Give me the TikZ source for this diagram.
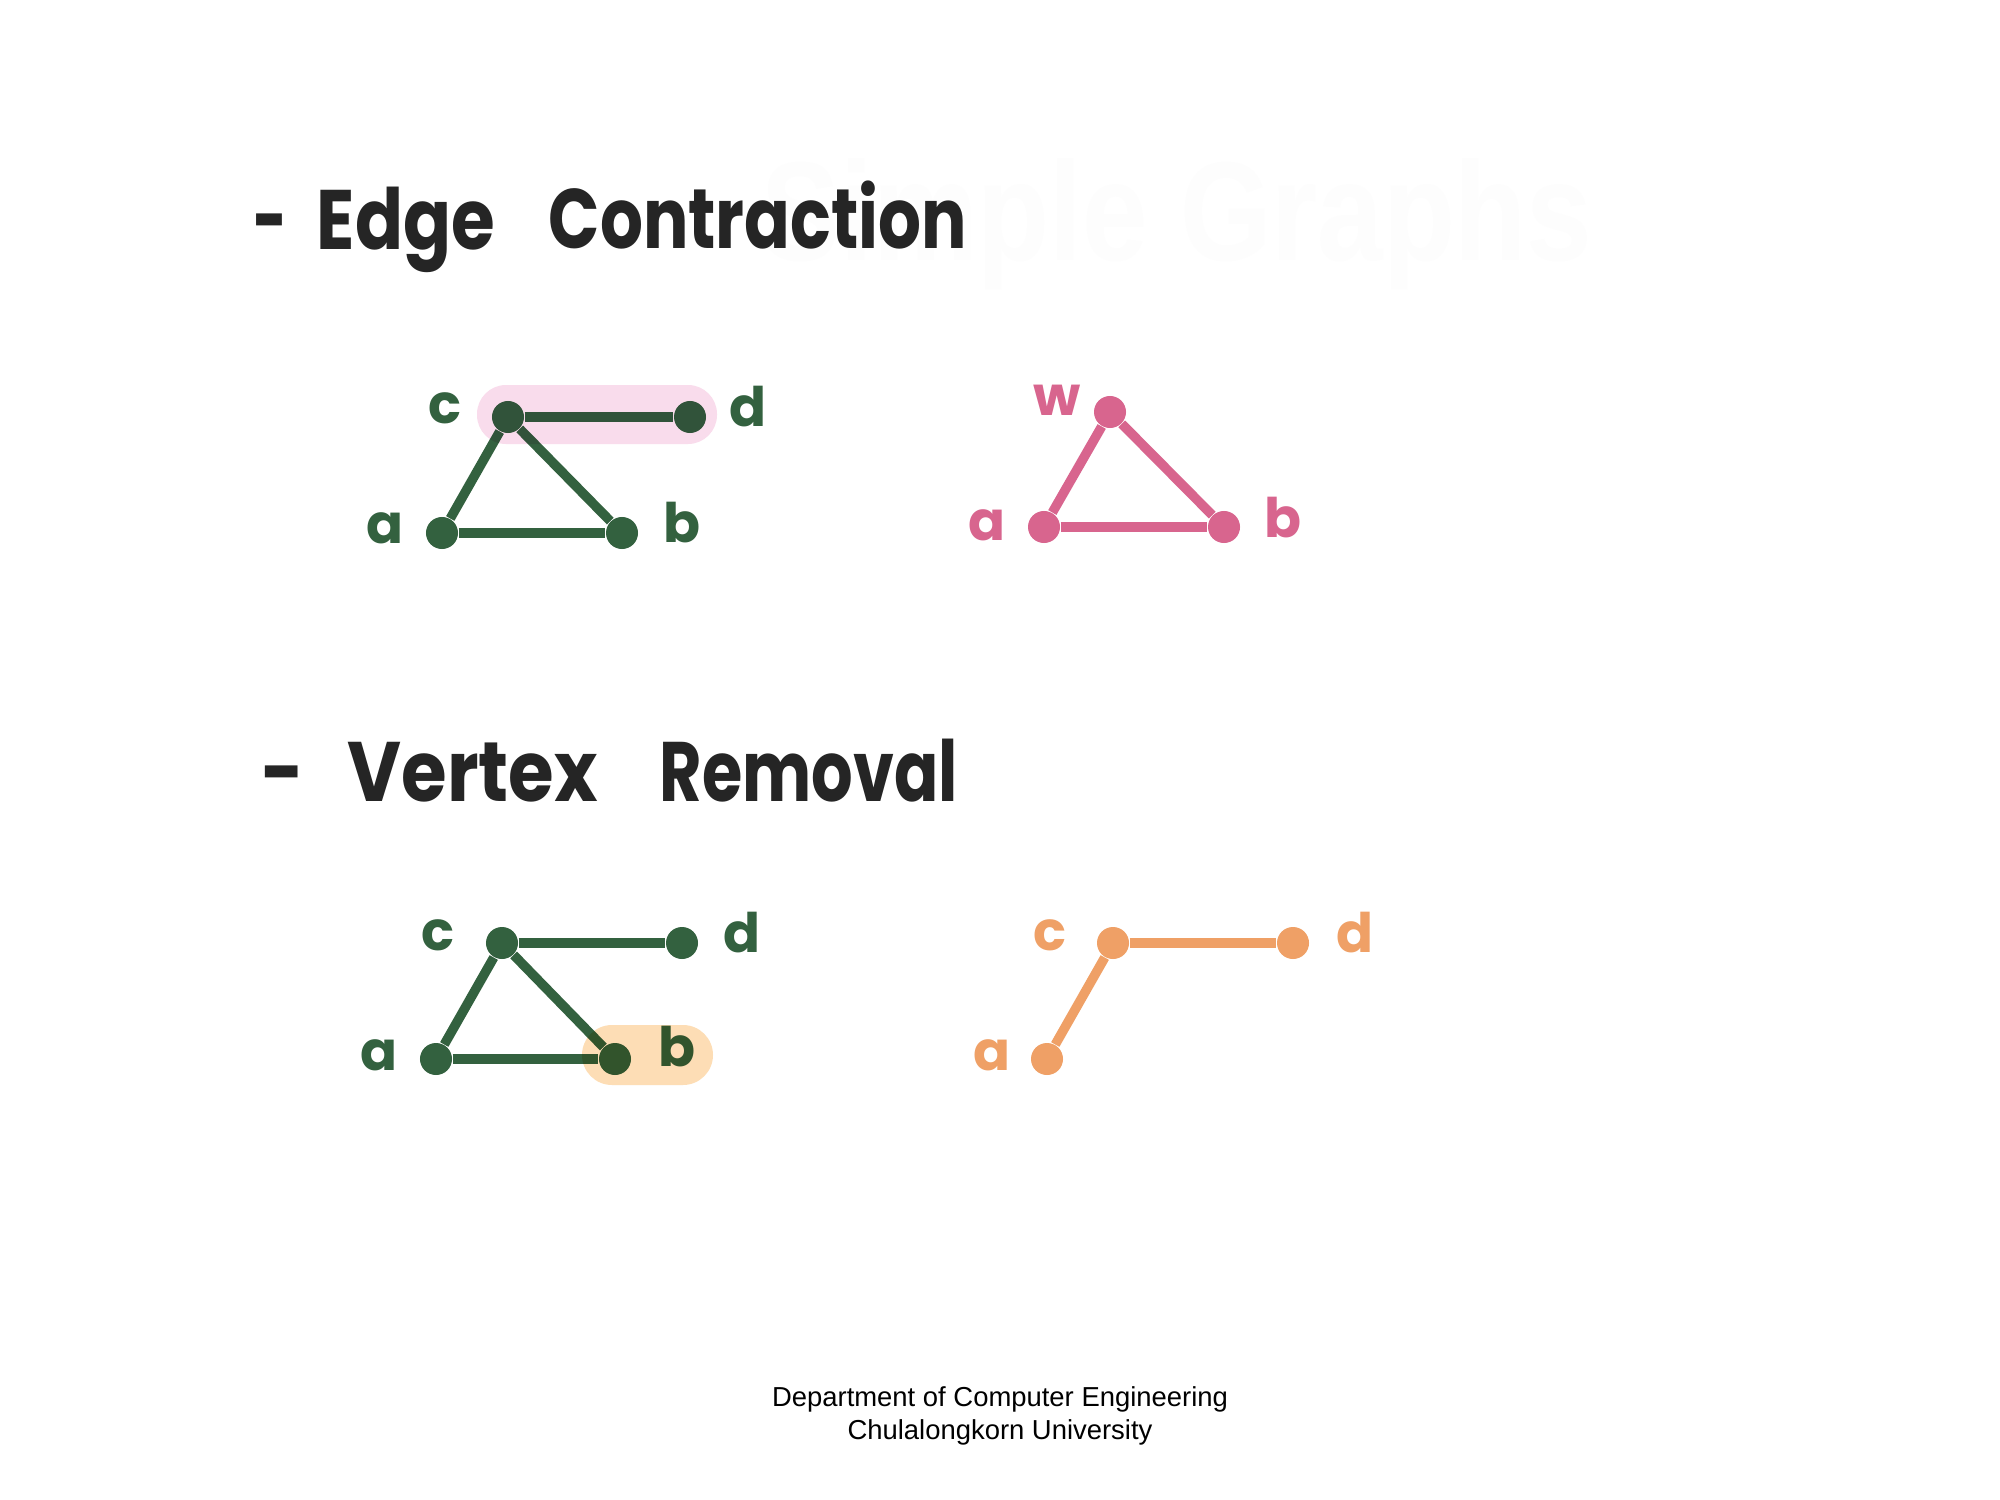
\documentclass[tikz,border=0pt]{standalone}
\usepackage{fontspec}
\usepackage{graphicx}
\setmainfont{Liberation Sans}
\newfontfamily\handfont{Poppins}

\definecolor{ink}{HTML}{252525}
\definecolor{forest}{HTML}{33613F}
\definecolor{rose}{HTML}{D8658E}
\definecolor{apricot}{HTML}{EFA066}
\definecolor{rosewash}{HTML}{F9DCEC}
\definecolor{apricotwash}{HTML}{FDDDB5}

\tikzset{
  vtx/.style={circle, fill=#1, inner sep=0pt, minimum size=0.32cm},
  lbl/.style={text=#1, inner sep=0pt, anchor=center,
              font=\handfont\bfseries\fontsize{15.5}{15.5}\selectfont},
  link/.style={draw=#1, line width=0.095cm},
  head/.style={text=ink, inner sep=0pt, anchor=base west,
               font=\handfont\bfseries\fontsize{24}{24}\selectfont},
}

\begin{document}
\begin{tikzpicture}[x=0.01cm, y=-0.01cm]
  \useasboundingbox (0,0) rectangle (2000,1500);
  \fill[white] (0,0) rectangle (2000,1500);

  % faint title behind the headings
  \node[anchor=base east, inner sep=0pt, text=black!0.8,
        font=\bfseries\fontsize{40}{40}\selectfont] (ghost) at (1593,260)
        {\resizebox{8.3cm}{\height}{Simple Graphs}};

  % ---------- headings ----------
  \node[head] (h1dash) at (253,249) {\resizebox{0.34cm}{\height}{-}};
  \node[head] (h1a) at (316,249) {\resizebox{1.78cm}{\height}{Edge}};
  \node[head] (h1b) at (548,249) {\resizebox{4.18cm}{\height}{Contraction}};

  \node[head] (h2dash) at (261,801) {\resizebox{0.43cm}{\height}{-}};
  \node[head] (h2a) at (347,801) {\resizebox{2.50cm}{\height}{Vertex}};
  \node[head] (h2b) at (659,801) {\resizebox{2.98cm}{\height}{Removal}};

  % ---------- graph 1: before contraction ----------
  \node[vtx=forest] (c1) at (508,417) {};
  \node[vtx=forest] (d1) at (690,417) {};
  \node[vtx=forest] (a1) at (442,533) {};
  \node[vtx=forest] (b1) at (622,533) {};
  \draw[link=forest] (c1) -- (d1);
  \draw[link=forest] (c1) -- (a1);
  \draw[link=forest] (c1) -- (b1);
  \draw[link=forest] (a1) -- (b1);
  \node[lbl=forest] (lc1) at (445,408) {c};
  \node[lbl=forest] (ld1) at (748,407) {d};
  \node[lbl=forest] (la1) at (385,528) {a};
  \node[lbl=forest] (lb1) at (682,523) {b};
  \begin{scope}[blend mode=multiply]
    \fill[rosewash, rounded corners=0.29cm] (477,385) rectangle (717,444);
  \end{scope}

  % ---------- graph 2: after contraction ----------
  \node[vtx=rose] (w2) at (1110,412) {};
  \node[vtx=rose] (a2) at (1044,527) {};
  \node[vtx=rose] (b2) at (1224,527) {};
  \draw[link=rose] (w2) -- (a2);
  \draw[link=rose] (w2) -- (b2);
  \draw[link=rose] (a2) -- (b2);
  \node[lbl=rose] (lw2) at (1057,400) {w};
  \node[lbl=rose] (la2) at (987,525) {a};
  \node[lbl=rose] (lb2) at (1283,518) {b};

  % ---------- graph 3: before removal ----------
  \node[vtx=forest] (c3) at (502,943) {};
  \node[vtx=forest] (d3) at (682,943) {};
  \node[vtx=forest] (a3) at (436,1059) {};
  \node[vtx=forest] (b3) at (615,1059) {};
  \draw[link=forest] (c3) -- (d3);
  \draw[link=forest] (c3) -- (a3);
  \draw[link=forest] (c3) -- (b3);
  \draw[link=forest] (a3) -- (b3);
  \node[lbl=forest] (lc3) at (438,935) {c};
  \node[lbl=forest] (ld3) at (742,933) {d};
  \node[lbl=forest] (la3) at (379,1055) {a};
  \node[lbl=forest] (lb3) at (677,1047) {b};
  \begin{scope}[blend mode=multiply]
    \fill[apricotwash, rounded corners=0.3cm] (582,1025) rectangle (713,1085);
  \end{scope}

  % ---------- graph 4: after removal ----------
  \node[vtx=apricot] (c4) at (1113,943) {};
  \node[vtx=apricot] (d4) at (1293,943) {};
  \node[vtx=apricot] (a4) at (1047,1059) {};
  \draw[link=apricot] (c4) -- (d4);
  \draw[link=apricot] (c4) -- (a4);
  \node[lbl=apricot] (lc4) at (1050,935) {c};
  \node[lbl=apricot] (ld4) at (1355,933) {d};
  \node[lbl=apricot] (la4) at (992,1055) {a};

  % ---------- footer ----------
  \node[align=center, inner sep=0pt, text=black,
        font=\fontsize{7.8}{9.6}\selectfont] (footer) at (1000,1416)
        {Department of Computer Engineering\\Chulalongkorn University};
\end{tikzpicture}
\end{document}
